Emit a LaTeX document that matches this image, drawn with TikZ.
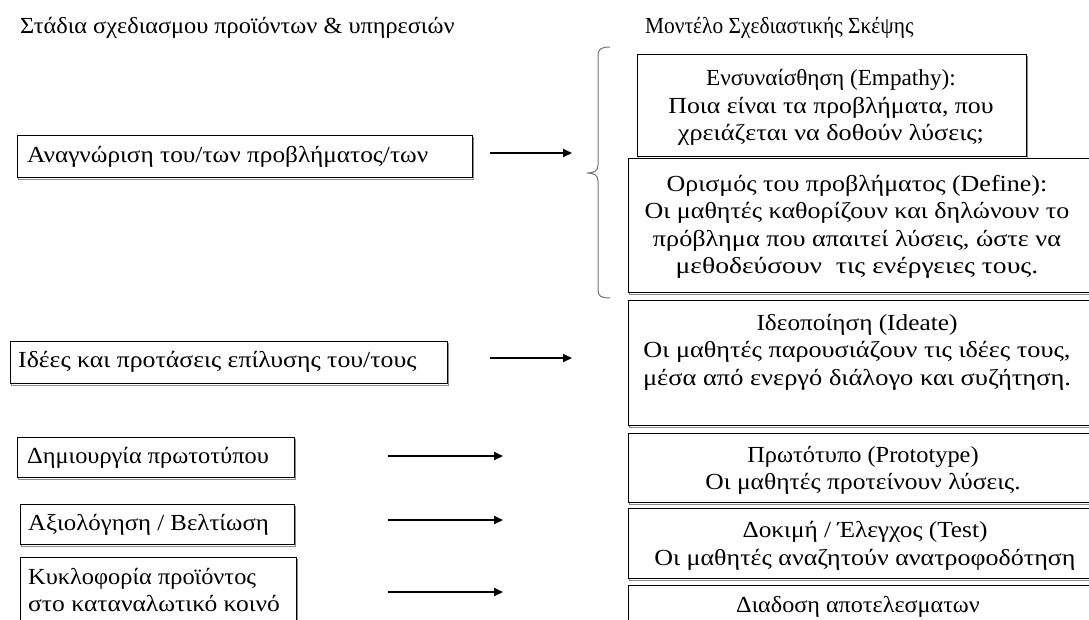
\documentclass[tikz,border=0pt]{standalone}
\usepackage{graphicx}
\usepackage{fontspec}
\setmainfont{Liberation Serif}
\usetikzlibrary{arrows.meta}
% horizontally widened line of text
\newcommand\wide[2]{\scalebox{#1}[1]{#2}}
\begin{document}
\begin{tikzpicture}[x=1pt,y=-1pt,
  frame/.style={draw=black,line width=0.8pt,fill=white,inner sep=0pt,anchor=north west,
    preaction={draw=black!45,line width=0.8pt,transform canvas={xshift=1.2pt,yshift=-1.6pt}}},
  txt/.style={inner sep=0pt,font=\fontsize{23}{27.5}\selectfont},
  ltxt/.style={txt,anchor=west,align=left},
  ctxt/.style={txt,anchor=center,align=center},
  conn/.style={line width=2pt,-{Triangle[length=9pt,width=8pt]}},
  bracepath/.style={draw=black!55,line width=1pt}]
\useasboundingbox (0,0) rectangle (1089,619);
\clip (0,0) rectangle (1089,619);

% column headings
\node[ltxt] (hleft) at (20,28) {\wide{1.057}{Στάδια σχεδιασμου προϊόντων \& υπηρεσιών}};
\node[ltxt,font=\fontsize{23}{27}\selectfont] (hright) at (645,28) {\wide{0.93}{Μοντέλο Σχεδιαστικής Σκέψης}};

% stages of product / service design (left column)
\node[frame,minimum width=455pt,minimum height=42pt] (s1) at (17,135) {};
\node[ltxt] (s1t) at (27,157) {\wide{1.10}{Αναγνώριση του/των προβλήματος/των}};
\node[frame,minimum width=437pt,minimum height=42pt] (s2) at (10,341) {};
\node[ltxt] (s2t) at (18,362) {\wide{1.12}{Ιδέες και προτάσεις επίλυσης του/τους}};
\node[frame,minimum width=277pt,minimum height=40pt] (s3) at (17,437) {};
\node[ltxt] (s3t) at (27,458) {\wide{1.06}{Δημιουργία πρωτοτύπου}};
\node[frame,minimum width=274pt,minimum height=40pt] (s4) at (20,504) {};
\node[ltxt] (s4t) at (28,525) {\wide{1.08}{Αξιολόγηση / Βελτίωση}};
\node[frame,minimum width=276pt,minimum height=80pt] (s5) at (20,557) {};
\node[ltxt] (s5t) at (28,590) {\wide{1.06}{Κυκλοφορία προϊόντος}\\\wide{1.11}{στο καταναλωτικό κοινό}};

% design thinking model (right column)
\node[frame,minimum width=389pt,minimum height=102pt] (m1) at (637,54) {};
\node[ctxt] (m1t) at (831,107.5) {\wide{1.01}{Ενσυναίσθηση (Empathy):}\\
  \wide{1.12}{Ποια είναι τα προβλήματα, που}\\
  \wide{1.14}{χρειάζεται να δοθούν λύσεις;}};
\node[frame,minimum width=470pt,minimum height=134pt] (m2) at (628,158) {};
\node[ctxt] (m2t) at (857,227) {\wide{1.13}{Ορισμός του προβλήματος (Define):}\\
  \wide{1.13}{Οι μαθητές καθορίζουν και δηλώνουν το}\\
  \wide{1.14}{πρόβλημα που απαιτεί λύσεις, ώστε να}\\
  \wide{1.2}{μεθοδεύσουν\ \ τις ενέργειες τους.}};
\node[frame,minimum width=470pt,minimum height=125pt] (m3) at (628,300) {};
\node[ctxt] (m3t) at (857,352) {\wide{1.10}{Ιδεοποίηση (Ideate)}\\
  \wide{1.14}{Οι μαθητές παρουσιάζουν τις ιδέες τους,}\\
  \wide{1.15}{μέσα από ενεργό διάλογο και συζήτηση.}};
\node[frame,minimum width=470pt,minimum height=69pt] (m4) at (628,433) {};
\node[ctxt] (m4t) at (863,470.5) {\wide{1.06}{Πρωτότυπο (Prototype)}\\
  \wide{1.11}{Οι μαθητές προτείνουν λύσεις.}};
\node[frame,minimum width=470pt,minimum height=70pt] (m5) at (628,508) {};
\node[ctxt] (m5t) at (865,546) {\wide{1.10}{Δοκιμή / Έλεγχος (Test)}\\
  \wide{1.13}{Οι μαθητές αναζητούν ανατροφοδότηση}};
\node[frame,minimum width=470pt,minimum height=60pt] (m6) at (628,585) {};
\node[ctxt] (m6t) at (858,607) {\wide{1.05}{Διαδοση αποτελεσματων}};

% curly brace grouping the first two phases
\draw[bracepath] (610,47) .. controls (601,47) and (598,49) .. (598,56) -- (598,165)
  .. controls (598,171) and (594,173) .. (587,173)
  .. controls (594,173) and (598,175) .. (598,181) -- (598,290)
  .. controls (598,296) and (601,298) .. (610,298);

% arrow end points
\coordinate (a1s) at (490,153); \coordinate (a1e) at (572,153);
\coordinate (a2s) at (490,358); \coordinate (a2e) at (572,358);
\coordinate (a3s) at (388,456); \coordinate (a3e) at (503,456);
\coordinate (a4s) at (388,520); \coordinate (a4e) at (503,520);
\coordinate (a5s) at (388,592); \coordinate (a5e) at (503,592);
\draw[conn] (a1s) -- (a1e);
\draw[conn] (a2s) -- (a2e);
\draw[conn] (a3s) -- (a3e);
\draw[conn] (a4s) -- (a4e);
\draw[conn] (a5s) -- (a5e);
\end{tikzpicture}
\end{document}
